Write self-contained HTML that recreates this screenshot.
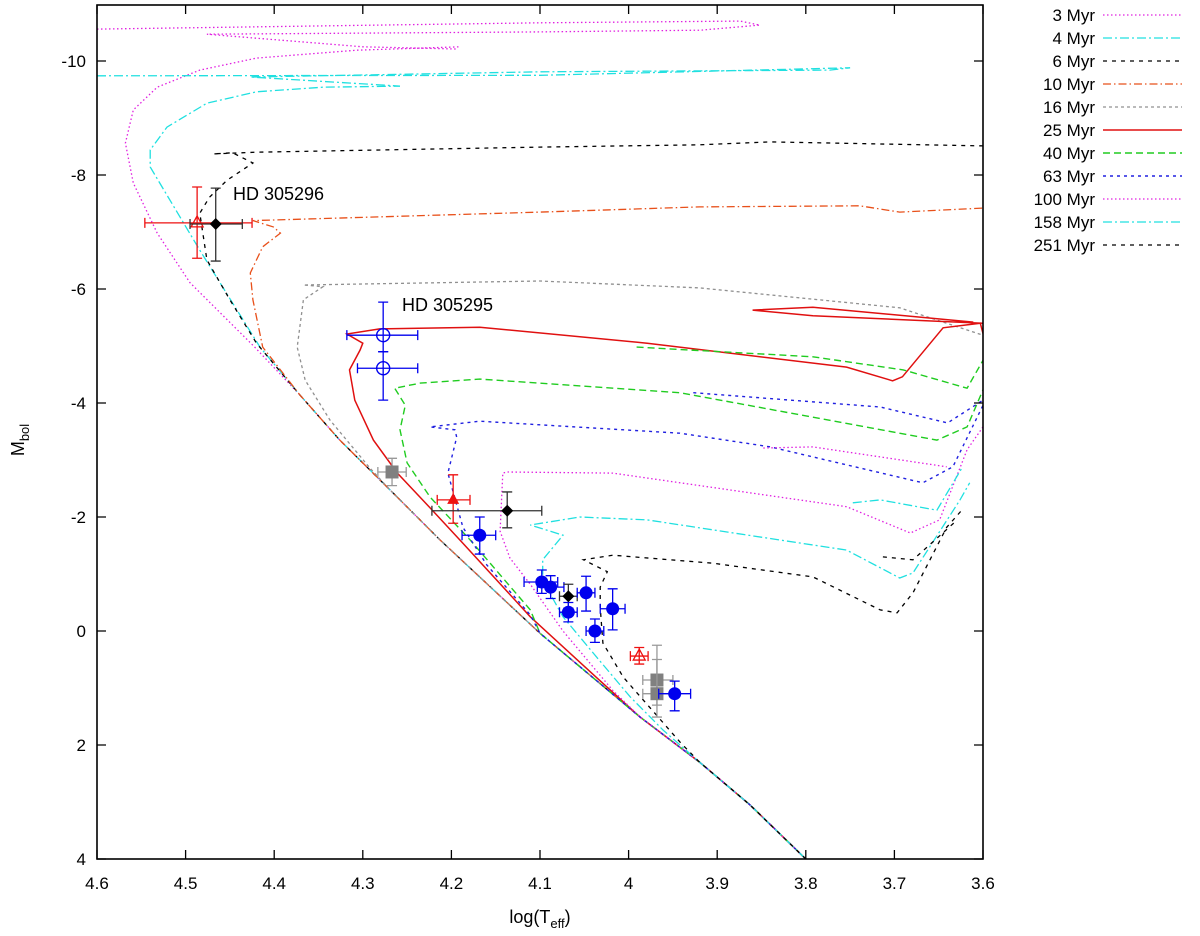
<!DOCTYPE html>
<html><head><meta charset="utf-8"><style>
html,body{margin:0;padding:0;background:#fff;}
svg{display:block;font-family:"Liberation Sans",Arial,sans-serif;}
</style></head><body>
<svg id="chart" width="1200" height="936" viewBox="0 0 1200 936"></svg>
<script>
// ---- data (logTeff, Mbol) ----
const xTicks = [4.6,4.5,4.4,4.3,4.2,4.1,4.0,3.9,3.8,3.7,3.6];
const xTickLabels = ["4.6","4.5","4.4","4.3","4.2","4.1","4","3.9","3.8","3.7","3.6"];
const yTicks = [-10,-8,-6,-4,-2,0,2,4];
const yTickLabels = ["-10","-8","-6","-4","-2","0","2","4"];
const zamsT = [3.80,3.863,3.92,3.987,4.10,4.213,4.269,4.326,4.371,4.422];
const zamsM = [4.0,3.05,2.30,1.51,0.04,-1.60,-2.47,-3.35,-4.14,-4.98];
const ages = ["3 Myr","4 Myr","6 Myr","10 Myr","16 Myr","25 Myr","40 Myr","63 Myr","100 Myr","158 Myr","251 Myr"];
const iso3T = [4.495,4.532,4.559,4.568,4.559,4.532,4.484,4.42,4.307,4.19];
const iso3M = [-6.11,-6.98,-7.86,-8.56,-9.14,-9.54,-9.84,-10.05,-10.19,-10.25];
const iso3bT = [4.60,4.10,3.874,3.852,3.919,4.10,4.476,4.30,4.194];
const iso3bM = [-10.56,-10.67,-10.70,-10.63,-10.54,-10.51,-10.47,-10.25,-10.21];
const iso4T = [4.416,4.484,4.54,4.54,4.521,4.476,4.42,4.345,4.258];
const iso4M = [-4.98,-6.68,-8.14,-8.44,-8.84,-9.26,-9.46,-9.54,-9.56];
const iso4bT = [4.60,4.10,3.75,3.773,4.10,4.427,4.258];
const iso4bM = [-9.74,-9.75,-9.88,-9.84,-9.81,-9.72,-9.56];
const iso6T = [4.42,4.45,4.476,4.484,4.473,4.453,4.424,4.447,4.469,4.42,4.10,3.92,3.84,3.60];
const iso6M = [-5.05,-5.81,-6.51,-7.33,-7.61,-7.91,-8.21,-8.39,-8.37,-8.40,-8.49,-8.53,-8.58,-8.51];
const iso10T = [4.413,4.424,4.427,4.413,4.393,4.401,4.424,4.10,3.92,3.739,3.694,3.60];
const iso10M = [-4.98,-5.81,-6.28,-6.74,-6.98,-7.09,-7.20,-7.35,-7.44,-7.46,-7.35,-7.42];
const iso16T = [4.292,4.337,4.365,4.374,4.367,4.345,4.367,4.10,3.92,3.694,3.60];
const iso16M = [-2.86,-3.70,-4.40,-4.98,-5.81,-6.04,-6.07,-6.14,-6.02,-5.67,-5.19];
const iso25T = [4.036,4.111,4.187,4.224,4.261,4.288,4.309,4.315,4.303,4.30,4.318,4.281,4.168,3.979,3.754,3.702,3.691,3.645,3.603,3.60];
const iso25M = [0.82,-0.25,-1.54,-2.16,-2.77,-3.35,-4.05,-4.58,-4.93,-5.05,-5.21,-5.30,-5.33,-5.05,-4.63,-4.39,-4.46,-5.32,-5.40,-5.22];
const iso25bT = [3.60,3.792,3.86,3.792,3.611];
const iso25bM = [-5.40,-5.53,-5.63,-5.68,-5.42];
const iso40T = [4.111,4.179,4.224,4.25,4.258,4.252,4.264,4.235,4.168,3.942,3.652,3.618,3.60];
const iso40M = [-0.37,-1.60,-2.35,-2.95,-3.53,-3.96,-4.26,-4.35,-4.42,-4.18,-3.35,-3.58,-4.23];
const iso40bT = [3.991,3.792,3.69,3.618,3.60];
const iso40bM = [-4.98,-4.81,-4.58,-4.26,-4.75];
const iso63T = [4.111,4.16,4.187,4.204,4.194,4.196,4.224,4.168,3.942,3.84,3.668,3.634,3.60];
const iso63M = [-0.28,-1.16,-1.82,-2.77,-3.40,-3.53,-3.58,-3.68,-3.47,-3.23,-2.60,-2.88,-3.96];
const iso63bT = [3.927,3.716,3.64,3.60];
const iso63bM = [-4.18,-3.93,-3.65,-4.05];
const iso100T = [4.018,4.074,4.111,4.134,4.145,4.142,4.137,4.018,3.754,3.682,3.649,3.618,3.60];
const iso100M = [1.04,0.0,-0.82,-1.28,-1.75,-2.77,-2.79,-2.77,-2.18,-1.72,-1.95,-3.18,-3.58];
const iso100bT = [3.848,3.792,3.641];
const iso100bM = [-3.21,-3.23,-2.88];
const iso158T = [3.961,3.998,4.036,4.074,4.097,4.097,4.074,4.111,4.055,3.979,3.754,3.694,3.679,3.626,3.615];
const iso158M = [1.74,1.16,0.46,-0.25,-0.89,-1.25,-1.68,-1.86,-2.0,-1.95,-1.42,-0.93,-1.02,-2.30,-2.60];
const iso158bT = [3.747,3.716,3.652,3.623];
const iso158bM = [-2.25,-2.30,-2.12,-2.88];
const iso251T = [3.942,3.961,4.006,4.029,4.032,4.032,4.024,4.051,4.018,3.905,3.792,3.716,3.697,3.679,3.641,3.625];
const iso251M = [1.95,1.61,0.81,0.21,-0.42,-0.77,-1.04,-1.25,-1.33,-1.19,-0.95,-0.37,-0.32,-0.67,-1.82,-2.1];
const iso251bT = [3.713,3.679,3.629];
const iso251bM = [-1.30,-1.25,-1.95];
// observed stars: logT, Mbol, T low/high, M low/high
const starKind = ["opentri-red","diamond","opencirc","opencirc","square","tri-red","diamond","circ","circ","circ","diamond","circ","circ","circ","circ","opentri-red","square","square","circ"];
const starT = [4.487,4.466,4.277,4.277,4.267,4.198,4.137,4.168,4.098,4.088,4.068,4.048,4.068,4.018,4.038,3.988,3.968,3.968,3.948];
const starM = [-7.16,-7.14,-5.19,-4.61,-2.79,-2.30,-2.11,-1.68,-0.86,-0.77,-0.61,-0.67,-0.33,-0.39,0.0,0.44,0.86,1.10,1.10];
const starTlo = [4.425,4.436,4.238,4.238,4.251,4.179,4.098,4.150,4.080,4.073,4.058,4.038,4.058,4.004,4.028,3.978,3.950,3.950,3.930];
const starThi = [4.546,4.495,4.318,4.306,4.283,4.216,4.222,4.188,4.118,4.103,4.078,4.058,4.078,4.032,4.048,3.998,3.984,3.984,3.966];
const starMlo = [-7.79,-7.77,-5.77,-4.90,-3.03,-2.74,-2.44,-2.0,-1.07,-0.97,-0.82,-0.96,-0.50,-0.74,-0.21,0.29,0.25,0.50,0.88];
const starMhi = [-6.54,-6.49,-4.90,-4.05,-2.55,-1.89,-1.81,-1.35,-0.66,-0.57,-0.40,-0.35,-0.16,-0.02,0.20,0.58,1.30,1.51,1.40];

const NS = "http://www.w3.org/2000/svg";
const svg = document.getElementById('chart');
const X = t => 97 + (4.6 - t) * 886;
const Y = m => 4 + (m + 11) * 57;
function mk(tag, attrs, parent) {
  const e = document.createElementNS(NS, tag);
  for (const k in attrs) e.setAttribute(k, attrs[k]);
  (parent || svg).appendChild(e);
  return e;
}
const defs = mk('defs', {});
const cp = mk('clipPath', {id: 'plotclip'}, defs);
mk('rect', {x: 97, y: 5, width: 886, height: 854}, cp);

const styles = [
  {c:'#e020e0', d:'1.5,2.5', w:1.3},
  {c:'#20e0e0', d:'9,3,2,3', w:1.3},
  {c:'#000000', d:'4,5', w:1.3},
  {c:'#e8501a', d:'8,3,1.5,3', w:1.3},
  {c:'#909090', d:'3,3', w:1.3},
  {c:'#e01010', d:'', w:1.5},
  {c:'#20cc20', d:'7,4', w:1.4},
  {c:'#2020e0', d:'3,4', w:1.4},
  {c:'#e020e0', d:'1.5,2.5', w:1.3},
  {c:'#20e0e0', d:'9,3,2,3', w:1.3},
  {c:'#000000', d:'4,5', w:1.3}
];
const isoMain = [[iso3T,iso3M],[iso4T,iso4M],[iso6T,iso6M],[iso10T,iso10M],[iso16T,iso16M],[iso25T,iso25M],[iso40T,iso40M],[iso63T,iso63M],[iso100T,iso100M],[iso158T,iso158M],[iso251T,iso251M]];
const isoExtra = {0:[iso3bT,iso3bM],1:[iso4bT,iso4bM],5:[iso25bT,iso25bM],6:[iso40bT,iso40bM],7:[iso63bT,iso63bM],8:[iso100bT,iso100bM],9:[iso158bT,iso158bM],10:[iso251bT,iso251bM]};

const gIso = mk('g', {'clip-path': 'url(#plotclip)'});


function pathFrom(T, M) {
  return T.map((t, i) => (i ? 'L' : 'M') + X(t).toFixed(1) + ',' + Y(M[i]).toFixed(1)).join(' ');
}
isoMain.forEach((pair, i) => {
  const T0 = pair[0][0];
  const zt = [], zm = [];
  zamsT.forEach((t, j) => { if (t < T0) { zt.push(t); zm.push(zamsM[j]); } });
  const T = zt.concat(pair[0]), M = zm.concat(pair[1]);
  const s = styles[i];
  const p = mk('path', {d: pathFrom(T, M), fill: 'none', stroke: s.c, 'stroke-width': s.w, 'stroke-dasharray': s.d}, gIso);
  
  
  if (isoExtra[i]) {
    const q = mk('path', {d: pathFrom(isoExtra[i][0], isoExtra[i][1]), fill: 'none', stroke: s.c, 'stroke-width': s.w, 'stroke-dasharray': s.d}, gIso);
    
    
  }
});

// stars
const gStars = mk('g', {});


starT.forEach((t, i) => {
  const k = starKind[i];
  let col = '#0000ee';
  if (k.indexOf('red') >= 0) col = '#ee1111';
  if (k === 'diamond') col = '#000000';
  if (k === 'square') col = '#808080';
  const g = mk('g', {}, gStars);
  
  
  const x = X(t), y = Y(starM[i]);
  const xl = X(starThi[i]), xr = X(starTlo[i]), yt = Y(starMlo[i]), yb = Y(starMhi[i]);
  const ec = k === 'diamond' ? '#333' : (k === 'square' ? '#999' : col);
  mk('path', {d: `M${xl},${y}H${xr}M${xl},${y-5}V${y+5}M${xr},${y-5}V${y+5}M${x},${yt}V${yb}M${x-5},${yt}H${x+5}M${x-5},${yb}H${x+5}`, stroke: ec, 'stroke-width': 1.3, fill: 'none'}, g);
  if (k === 'circ') mk('circle', {cx: x, cy: y, r: 6.5, fill: col}, g);
  else if (k === 'opencirc') mk('circle', {cx: x, cy: y, r: 6.5, fill: 'none', stroke: col, 'stroke-width': 1.4}, g);
  else if (k === 'diamond') mk('path', {d: `M${x},${y-6}L${x+6},${y}L${x},${y+6}L${x-6},${y}Z`, fill: '#000'}, g);
  else if (k === 'square') mk('rect', {x: x-6.5, y: y-6.5, width: 13, height: 13, fill: col}, g);
  else if (k === 'tri-red') mk('path', {d: `M${x},${y-7}L${x+6},${y+4}L${x-6},${y+4}Z`, fill: col}, g);
  else if (k === 'opentri-red') mk('path', {d: `M${x},${y-7}L${x+6},${y+4}L${x-6},${y+4}Z`, fill: 'none', stroke: col, 'stroke-width': 1.3}, g);
});

// labels
const l1 = mk('text', {x: 233, y: 200, 'font-size': 18, fill: '#000'});
l1.textContent = 'HD 305296';


const l2 = mk('text', {x: 402, y: 311, 'font-size': 18, fill: '#000'});
l2.textContent = 'HD 305295';



// frame and ticks
const frame = mk('rect', {x: 97, y: 5, width: 886, height: 854, fill: 'none', stroke: '#000', 'stroke-width': 1.6});


const gX = mk('g', {});


xTicks.forEach((t, i) => {
  const x = X(t);
  mk('path', {d: `M${x},859V850M${x},5V14`, stroke: '#000', 'stroke-width': 1.3}, gX);
  const tx = mk('text', {x: x, y: 889, 'font-size': 17, 'text-anchor': 'middle'}, gX);
  tx.textContent = xTickLabels[i];
  
  
});
const gY = mk('g', {});


yTicks.forEach((m, i) => {
  const y = Y(m);
  mk('path', {d: `M97,${y}H106M983,${y}H974`, stroke: '#000', 'stroke-width': 1.3}, gY);
  const ty = mk('text', {x: 86, y: y + 6, 'font-size': 17, 'text-anchor': 'end'}, gY);
  ty.textContent = yTickLabels[i];
  
  
});
const xt = mk('text', {x: 540, y: 923, 'font-size': 18, 'text-anchor': 'middle'});
xt.innerHTML = 'log(T<tspan font-size="13" dy="5">eff</tspan><tspan dy="-5">)</tspan>';


const yt = mk('text', {x: 0, y: 0, 'font-size': 18, 'text-anchor': 'middle', transform: 'translate(24,440) rotate(-90)'});
yt.innerHTML = 'M<tspan font-size="13" dy="5">bol</tspan>';



// legend
const gL = mk('g', {});


ages.forEach((a, i) => {
  const y = 15 + i * 23;
  const s = styles[i];
  const g = mk('g', {}, gL);
  
  
  const t = mk('text', {x: 1095, y: y + 6, 'font-size': 17, 'text-anchor': 'end'}, g);
  t.textContent = a;
  mk('line', {x1: 1103, y1: y, x2: 1182, y2: y, stroke: s.c, 'stroke-width': s.w, 'stroke-dasharray': s.d}, g);
});
</script>
</body></html>
